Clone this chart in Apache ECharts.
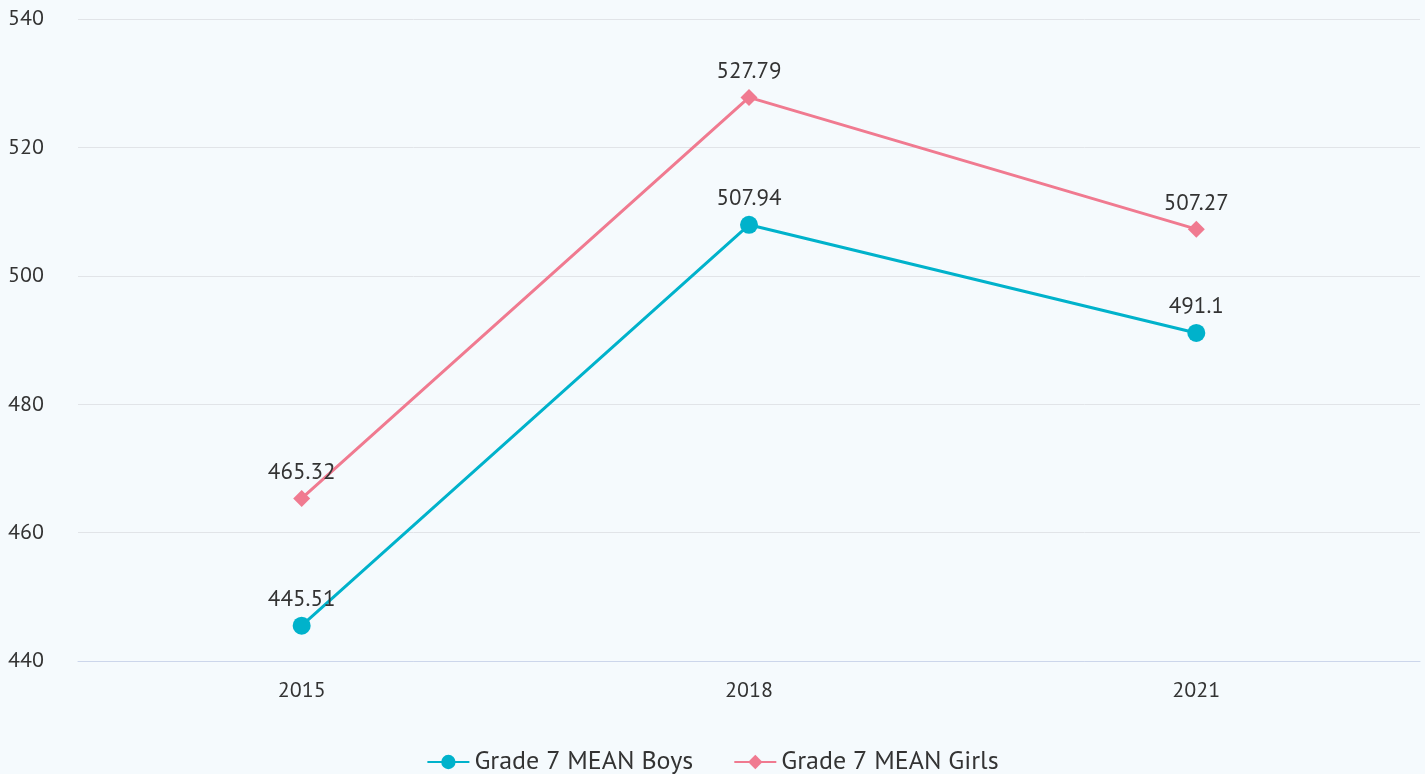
<!DOCTYPE html>
<html><head><meta charset="utf-8">
<script src="https://cdn.jsdelivr.net/npm/echarts@6/dist/echarts.min.js"></script>
<style>html,body{margin:0;padding:0;background:#f5fafd}#c{width:1425px;height:774px}</style>
</head><body><div id="c"></div>
<script>
const categories = ['2015', '2018', '2021'];
const boys = [445.51, 507.94, 491.1];
const girls = [465.32, 527.79, 507.27];
const yTicks = [440, 460, 480, 500, 520, 540];
const font = '"PT Sans","Noto Sans",sans-serif';
const chart = echarts.init(document.getElementById('c'));
chart.setOption({
  backgroundColor: '#f5fafd',
  animation: false,
  grid: {left: 78, right: 5, top: 19, bottom: 113},
  xAxis: {type: 'category', data: categories, boundaryGap: true,
    axisLine: {show: true, lineStyle: {color: '#ccd6eb', width: 1}},
    axisTick: {show: false},
    axisLabel: {color: '#333', fontSize: 22, fontFamily: font, margin: 19}},
  yAxis: {type: 'value', min: yTicks[0], max: yTicks[yTicks.length-1], interval: 20,
    axisLine: {show: false}, axisTick: {show: false},
    splitLine: {lineStyle: {color: '#e1e4e8', width: 1}},
    axisLabel: {color: '#333', fontSize: 22, fontFamily: font, align: 'left', margin: 70}},
  legend: {bottom: -6, left: 'center', itemWidth: 42, itemHeight: 18, itemGap: 40,
    textStyle: {color: '#333', fontSize: 26, fontFamily: font}},
  series: [
    {name: 'Grade 7 MEAN Boys', type: 'line', data: boys, symbol: 'circle', symbolSize: 18,
     color: '#00b2cb', lineStyle: {width: 3},
     label: {show: true, position: 'top', distance: 6, color: '#333', fontSize: 23, fontFamily: font}},
    {name: 'Grade 7 MEAN Girls', type: 'line', data: girls, symbol: 'diamond', symbolSize: 17,
     color: '#f07a90', lineStyle: {width: 3},
     label: {show: true, position: 'top', distance: 6, color: '#333', fontSize: 23, fontFamily: font}}
  ]
});
</script></body></html>
